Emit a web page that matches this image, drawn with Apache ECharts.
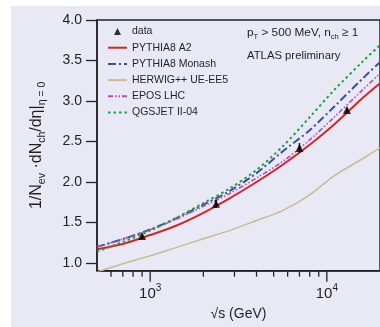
<!DOCTYPE html>
<html>
<head>
<meta charset="utf-8">
<script src="https://cdn.jsdelivr.net/npm/echarts@6/dist/echarts.min.js"></script>
<style>html,body{margin:0;padding:0;background:#fff}#c{width:380px;height:327px}</style>
</head>
<body>
<div id="c"></div>
<script>
// ---- data ----
const energies     = [500, 700, 1000, 1400, 2000, 2800, 4000, 5600, 8000, 11000, 16000, 20000];
const pythiaA2     = [1.17, 1.235, 1.345, 1.46, 1.62, 1.795, 2.00, 2.21, 2.46, 2.71, 3.04, 3.22];
const pythiaMonash = [1.20, 1.295, 1.415, 1.55, 1.72, 1.885, 2.11, 2.375, 2.64, 2.93, 3.28, 3.48];
const herwig       = [0.89, 0.99, 1.09, 1.19, 1.30, 1.40, 1.525, 1.646, 1.842, 2.076, 2.29, 2.42];
const eposLHC      = [1.20, 1.295, 1.41, 1.54, 1.70, 1.855, 2.05, 2.25, 2.52, 2.80, 3.14, 3.34];
const qgsjet       = [1.14, 1.26, 1.40, 1.555, 1.74, 1.915, 2.15, 2.435, 2.80, 3.135, 3.49, 3.69];

const dataE   = [900, 2360, 7000, 13000];
const dataV   = [1.333, 1.73, 2.42, 2.89];
const dataErr = [0.02, 0.05, 0.06, 0.03];

const yTicks      = [1.0, 1.5, 2.0, 2.5, 3.0, 3.5, 4.0];
const xMajorTicks = [1000, 10000];
const xMinorTicks = [600, 700, 800, 900, 2000, 3000, 4000, 5000, 6000, 7000, 8000, 9000];

const lineNames = ['PYTHIA8 A2', 'PYTHIA8 Monash', 'HERWIG++ UE-EE5', 'EPOS LHC', 'QGSJET II-04'];

const Y_MIN = 0.905, Y_MAX = 4.0, X_MIN = 500, X_MAX = 20000;
const FONT = "'Liberation Sans', Arial, sans-serif";
const INK = '#231f20';

const pair = (xs, ys) => xs.map((x, i) => [x, ys[i]]);

function tickSeries(vals, len) {
  return {
    type: 'custom', silent: true, clip: false, z: 10,
    data: vals.map(v => [v, Y_MIN]),
    encode: { x: 0, y: 1 },
    renderItem: (params, api) => {
      const p = api.coord([api.value(0), api.value(1)]);
      return { type: 'line', shape: { x1: p[0], y1: p[1], x2: p[0], y2: p[1] + len },
               style: { stroke: '#222', lineWidth: 1.3 } };
    }
  };
}

function lineSeries(name, vals, color, type, width) {
  return {
    name, type: 'line', data: pair(energies, vals), smooth: 0.3,
    symbol: 'none', showSymbol: false, z: 3,
    lineStyle: { color, width, type },
    itemStyle: { color }
  };
}

const chart = echarts.init(document.getElementById('c'), null, { renderer: 'canvas' });
chart.setOption({
  backgroundColor: '#e9e9f5',
  animation: false,
  grid: { left: 97, top: 20, width: 284.6, height: 250.7, show: true,
          borderColor: '#222', borderWidth: 1.5, backgroundColor: 'transparent' },
  xAxis: {
    type: 'log', logBase: 10, min: X_MIN, max: X_MAX,
    name: '√s (GeV)', nameLocation: 'middle', nameGap: 36,
    nameTextStyle: { fontFamily: FONT, fontSize: 14, color: INK },
    axisLine: { show: true, lineStyle: { color: '#222', width: 1.5 } },
    axisTick: { show: false },
    splitLine: { show: false },
    minorTick: { show: false },
    axisLabel: {
      showMinLabel: false, showMaxLabel: false, margin: 13,
      formatter: v => '{b|10}{p|' + Math.round(Math.log10(v)) + '}',
      rich: {
        b: { fontFamily: FONT, fontSize: 15, color: INK, lineHeight: 20, verticalAlign: 'middle' },
        p: { fontFamily: FONT, fontSize: 10, color: INK, lineHeight: 20, verticalAlign: 'top' }
      }
    }
  },
  yAxis: {
    type: 'value', min: Y_MIN, max: Y_MAX,
    name: '{a|1/N}{s|ev}{a| ·dN}{s|ch}{a|/dη|}{s|η = 0}',
    nameLocation: 'middle', nameGap: 49, nameRotate: 90,
    nameTextStyle: {
      rich: {
        a: { fontFamily: FONT, fontSize: 16, color: INK, lineHeight: 22, verticalAlign: 'middle' },
        s: { fontFamily: FONT, fontSize: 10.5, color: INK, lineHeight: 22, verticalAlign: 'bottom' }
      }
    },
    axisLine: { show: true, lineStyle: { color: '#222', width: 1.5 } },
    axisTick: { show: true, length: 11, customValues: yTicks, lineStyle: { color: '#222', width: 1.3 } },
    axisLabel: { customValues: yTicks, formatter: v => v.toFixed(1), margin: 15,
                 fontFamily: FONT, fontSize: 14, color: INK },
    splitLine: { show: false }
  },
  legend: {
    orient: 'vertical', left: 107, top: 24.5, padding: 0,
    itemWidth: 19, itemHeight: 7, itemGap: 2.2,
    textStyle: { fontFamily: FONT, fontSize: 10.5, lineHeight: 14, color: INK },
    data: [{ name: 'data', icon: 'path://M0,0M19,7M6,7L9.5,0L13,7Z' }].concat(
      lineNames.map(n => ({ name: n, itemStyle: { opacity: 0 } })))
  },
  graphic: [
    { type: 'rect', left: 0, top: 0, shape: { width: 11, height: 327 }, style: { fill: '#fff' }, z: 100 },
    { type: 'rect', left: 0, top: 0, shape: { width: 380, height: 6 }, style: { fill: '#fff' }, z: 100 },
    { type: 'text', left: 247, top: 27, z: 50,
      style: { text: '{a|p}{s|T}{a| > 500 MeV, n}{s|ch}{a| ≥ 1}',
        rich: {
          a: { fontFamily: FONT, fontSize: 11.8, fill: INK, lineHeight: 16, verticalAlign: 'middle' },
          s: { fontFamily: FONT, fontSize: 7.5, fill: INK, lineHeight: 16, verticalAlign: 'bottom' }
        } } },
    { type: 'text', left: 247, top: 50, z: 50,
      style: { text: 'ATLAS preliminary', font: '11.3px ' + FONT, fill: INK } }
  ],
  series: [
    lineSeries('PYTHIA8 A2', pythiaA2, '#d8232a', 'solid', 2),
    lineSeries('PYTHIA8 Monash', pythiaMonash, '#3b4ea3', [8, 3, 2, 3], 2),
    lineSeries('HERWIG++ UE-EE5', herwig, '#cdb896', 'solid', 1.5),
    lineSeries('EPOS LHC', eposLHC, '#b24fb0', [5, 2, 1.5, 2, 1.5, 2], 1.6),
    lineSeries('QGSJET II-04', qgsjet, '#19a33e', [2.5, 3], 2),
    {
      name: 'data', type: 'scatter', symbol: 'triangle', symbolSize: 8, z: 6,
      data: pair(dataE, dataV), itemStyle: { color: '#000' }
    },
    {
      name: 'errors', type: 'custom', silent: true, z: 6,
      data: dataE.map((e, i) => [e, dataV[i] - dataErr[i], dataV[i] + dataErr[i]]),
      encode: { x: 0, y: [1, 2] },
      renderItem: (params, api) => {
        const a = api.coord([api.value(0), api.value(1)]);
        const b = api.coord([api.value(0), api.value(2)]);
        return { type: 'line', shape: { x1: a[0], y1: a[1], x2: b[0], y2: b[1] },
                 style: { stroke: '#000', lineWidth: 1.5 } };
      }
    },
    tickSeries(xMinorTicks, 6),
    tickSeries(xMajorTicks, 11)
  ]
});
</script>
</body>
</html>
